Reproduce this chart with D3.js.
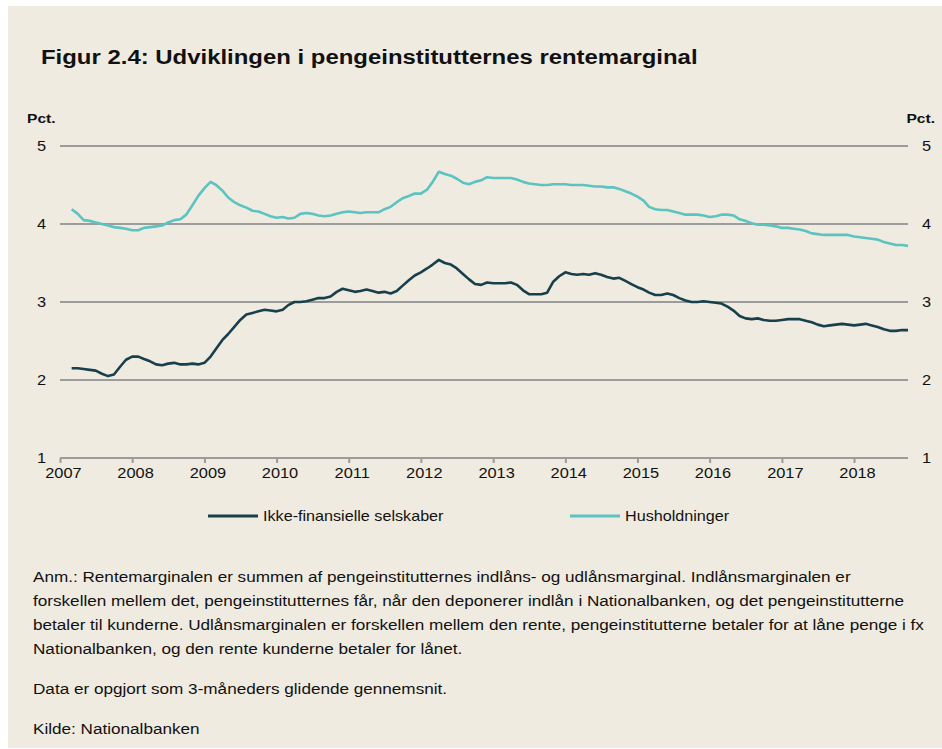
<!DOCTYPE html>
<html>
<head>
<meta charset="utf-8">
<script src="https://cdn.jsdelivr.net/npm/d3@7/dist/d3.min.js"></script>
<style>
  html, body { margin: 0; padding: 0; background: #ffffff; }
  svg { display: block; }
  text { font-family: "Liberation Sans", Arial, sans-serif; fill: #111; }
</style>
</head>
<body>
<svg id="chart" width="942" height="749"></svg>
<script>
// ---- Data ----
const startMonth = "2007-03";   // first observation (monthly, 3-month moving average)
const endMonth = "2018-10";     // last observation
const seriesNames = ["Ikke-finansielle selskaber", "Husholdninger"];
const ikkeFinansielle = [
  2.15,2.15,2.14,2.13,2.12,2.08,2.05,2.07,2.17,2.26,
  2.30,2.30,2.27,2.24,2.20,2.19,2.21,2.22,2.20,2.20,
  2.21,2.20,2.22,2.30,2.40,2.51,2.59,2.68,2.77,2.84,
  2.86,2.88,2.90,2.89,2.88,2.90,2.96,3.00,3.00,3.01,
  3.03,3.05,3.05,3.07,3.13,3.17,3.15,3.13,3.14,3.16,
  3.14,3.12,3.13,3.11,3.14,3.21,3.28,3.34,3.38,3.43,
  3.48,3.54,3.50,3.48,3.43,3.36,3.29,3.23,3.22,3.25,
  3.24,3.24,3.24,3.25,3.22,3.15,3.10,3.10,3.10,3.12,
  3.26,3.33,3.38,3.36,3.35,3.36,3.35,3.37,3.35,3.32,
  3.30,3.31,3.27,3.23,3.19,3.16,3.12,3.09,3.09,3.11,
  3.09,3.05,3.02,3.00,3.00,3.01,3.00,2.99,2.98,2.94,
  2.89,2.82,2.79,2.78,2.79,2.77,2.76,2.76,2.77,2.78,
  2.78,2.78,2.76,2.74,2.71,2.69,2.70,2.71,2.72,2.71,
  2.70,2.71,2.72,2.70,2.68,2.65,2.63,2.63,2.64,2.64
];
const husholdninger = [
  4.19,4.13,4.05,4.04,4.02,4.00,3.98,3.96,3.95,3.94,
  3.92,3.92,3.95,3.96,3.97,3.98,4.02,4.05,4.06,4.12,
  4.24,4.36,4.46,4.54,4.50,4.43,4.34,4.28,4.24,4.21,
  4.17,4.16,4.13,4.10,4.08,4.09,4.07,4.08,4.13,4.14,
  4.13,4.11,4.10,4.11,4.13,4.15,4.16,4.15,4.14,4.15,
  4.15,4.15,4.19,4.22,4.28,4.33,4.36,4.39,4.39,4.44,
  4.54,4.67,4.64,4.62,4.58,4.53,4.51,4.54,4.56,4.60,
  4.59,4.59,4.59,4.59,4.57,4.54,4.52,4.51,4.50,4.50,
  4.51,4.51,4.51,4.50,4.50,4.50,4.49,4.48,4.48,4.47,
  4.47,4.45,4.42,4.39,4.35,4.30,4.22,4.19,4.18,4.18,
  4.16,4.14,4.12,4.12,4.12,4.11,4.09,4.10,4.12,4.12,
  4.11,4.06,4.04,4.01,3.99,3.99,3.98,3.97,3.95,3.95,
  3.94,3.93,3.91,3.88,3.87,3.86,3.86,3.86,3.86,3.86,
  3.84,3.83,3.82,3.81,3.80,3.77,3.75,3.73,3.73,3.72
];
const yTicks = [1, 2, 3, 4, 5];
const xTickYears = ["2007","2008","2009","2010","2011","2012","2013","2014","2015","2016","2017","2018"];
const titleText = "Figur 2.4: Udviklingen i pengeinstitutternes rentemarginal";
const unitLabel = "Pct.";
const noteLines = [
  "Anm.: Rentemarginalen er summen af pengeinstitutternes indlåns- og udlånsmarginal. Indlånsmarginalen er",
  "forskellen mellem det, pengeinstitutternes får, når den deponerer indlån i Nationalbanken, og det pengeinstitutterne",
  "betaler til kunderne. Udlånsmarginalen er forskellen mellem den rente, pengeinstitutterne betaler for at låne penge i fx",
  "Nationalbanken, og den rente kunderne betaler for lånet."
];
const dataNote = "Data er opgjort som 3-måneders glidende gennemsnit.";
const sourceNote = "Kilde: Nationalbanken";

// ---- Setup ----
const parseMonth = d3.timeParse("%Y-%m");
const months = d3.timeMonth.range(parseMonth(startMonth), d3.timeMonth.offset(parseMonth(endMonth), 1));
const colors = { dark: "#173f4c", teal: "#5bc4c0", grid: "#9c9c9c" };
const SX = 1.17; // horizontal text stretch seen in the reference

const svg = d3.select("#chart");
svg.append("rect").attr("x", 8).attr("y", 6).attr("width", 934).attr("height", 742).attr("fill", "#f0ebe0");

const plot = { left: 60, right: 908, top: 146, bottom: 458 };
const x = d3.scaleTime()
  .domain([new Date(2007, 0, 1), new Date(2018, 9, 1)])
  .range([plot.left, plot.right]);
const y = d3.scaleLinear().domain([1, 5]).range([plot.bottom, plot.top]);

function addText(px, py, str, size, opts = {}) {
  const sx = opts.sx || SX;
  const t = svg.append("text")
    .attr("transform", `translate(${px},${py}) scale(${sx},1)`)
    .style("font-size", size + "px")
    .text(str);
  if (opts.bold) t.style("font-weight", "bold");
  if (opts.anchor) t.attr("text-anchor", opts.anchor);
  return t;
}

// Title
addText(41, 64, titleText, 20.5, { bold: true, sx: 1.168 });

// Unit labels
addText(27, 123, unitLabel, 13, { bold: true, sx: 1.2 });
addText(935, 123, unitLabel, 13, { bold: true, sx: 1.2, anchor: "end" });

// Gridlines
svg.append("g").selectAll("line").data(yTicks).join("line")
  .attr("x1", plot.left).attr("x2", plot.right)
  .attr("y1", d => y(d)).attr("y2", d => y(d))
  .attr("stroke", colors.grid).attr("stroke-width", 2);

// Left / right y axes (labels only)
const yLeft = svg.append("g").attr("transform", `translate(${plot.left - 14},0)`)
  .call(d3.axisLeft(y).tickValues(yTicks).tickSize(0).tickPadding(0).tickFormat(d3.format("d")));
const yRight = svg.append("g").attr("transform", `translate(${plot.right + 14},0)`)
  .call(d3.axisRight(y).tickValues(yTicks).tickSize(0).tickPadding(0).tickFormat(d3.format("d")));
[yLeft, yRight].forEach(g => {
  g.select(".domain").remove();
  g.selectAll("text").style("font-family", "Liberation Sans, Arial, sans-serif").style("font-size", "14px")
    .attr("fill", "#111").attr("transform", `scale(${SX},1)`);
});

// X axis
const xAxis = svg.append("g").attr("transform", `translate(0,${plot.bottom})`)
  .call(d3.axisBottom(x)
    .tickValues(xTickYears.map(yr => new Date(+yr, 0, 1)))
    .tickSize(5).tickSizeOuter(0).tickPadding(5)
    .tickFormat(d3.timeFormat("%Y")));
xAxis.select(".domain").remove();
xAxis.selectAll("line").attr("stroke", colors.grid).attr("stroke-width", 2);
xAxis.selectAll("text").style("font-family", "Liberation Sans, Arial, sans-serif").style("font-size", "14px")
  .attr("fill", "#111").attr("dx", 2.5).attr("transform", `scale(${SX},1)`);

// Lines
const line = d3.line().x((d, i) => x(months[i])).y(d => y(d)).curve(d3.curveLinear);
svg.append("path").datum(husholdninger).attr("d", line)
  .attr("fill", "none").attr("stroke", colors.teal).attr("stroke-width", 2.6).attr("stroke-linejoin", "round");
svg.append("path").datum(ikkeFinansielle).attr("d", line)
  .attr("fill", "none").attr("stroke", colors.dark).attr("stroke-width", 2.6).attr("stroke-linejoin", "round");

// Legend
const legendItems = [
  { name: seriesNames[0], color: colors.dark, x: 208 },
  { name: seriesNames[1], color: colors.teal, x: 570 }
];
const lg = svg.append("g").selectAll("g").data(legendItems).join("g")
  .attr("transform", d => `translate(${d.x},516)`);
lg.append("line").attr("x1", 0).attr("x2", 50).attr("y1", 0).attr("y2", 0)
  .attr("stroke", d => d.color).attr("stroke-width", 3);
lg.append("text").attr("transform", `translate(55,5) scale(1.155,1)`).style("font-size", "14px").text(d => d.name);

// Notes
noteLines.forEach((ln, i) => addText(33, 582 + i * 24, ln, 14.5, { sx: 1.182 }));
addText(33, 694, dataNote, 14.5, { sx: 1.182 });
addText(33, 734, sourceNote, 14.5, { sx: 1.182 });
</script>
</body>
</html>
